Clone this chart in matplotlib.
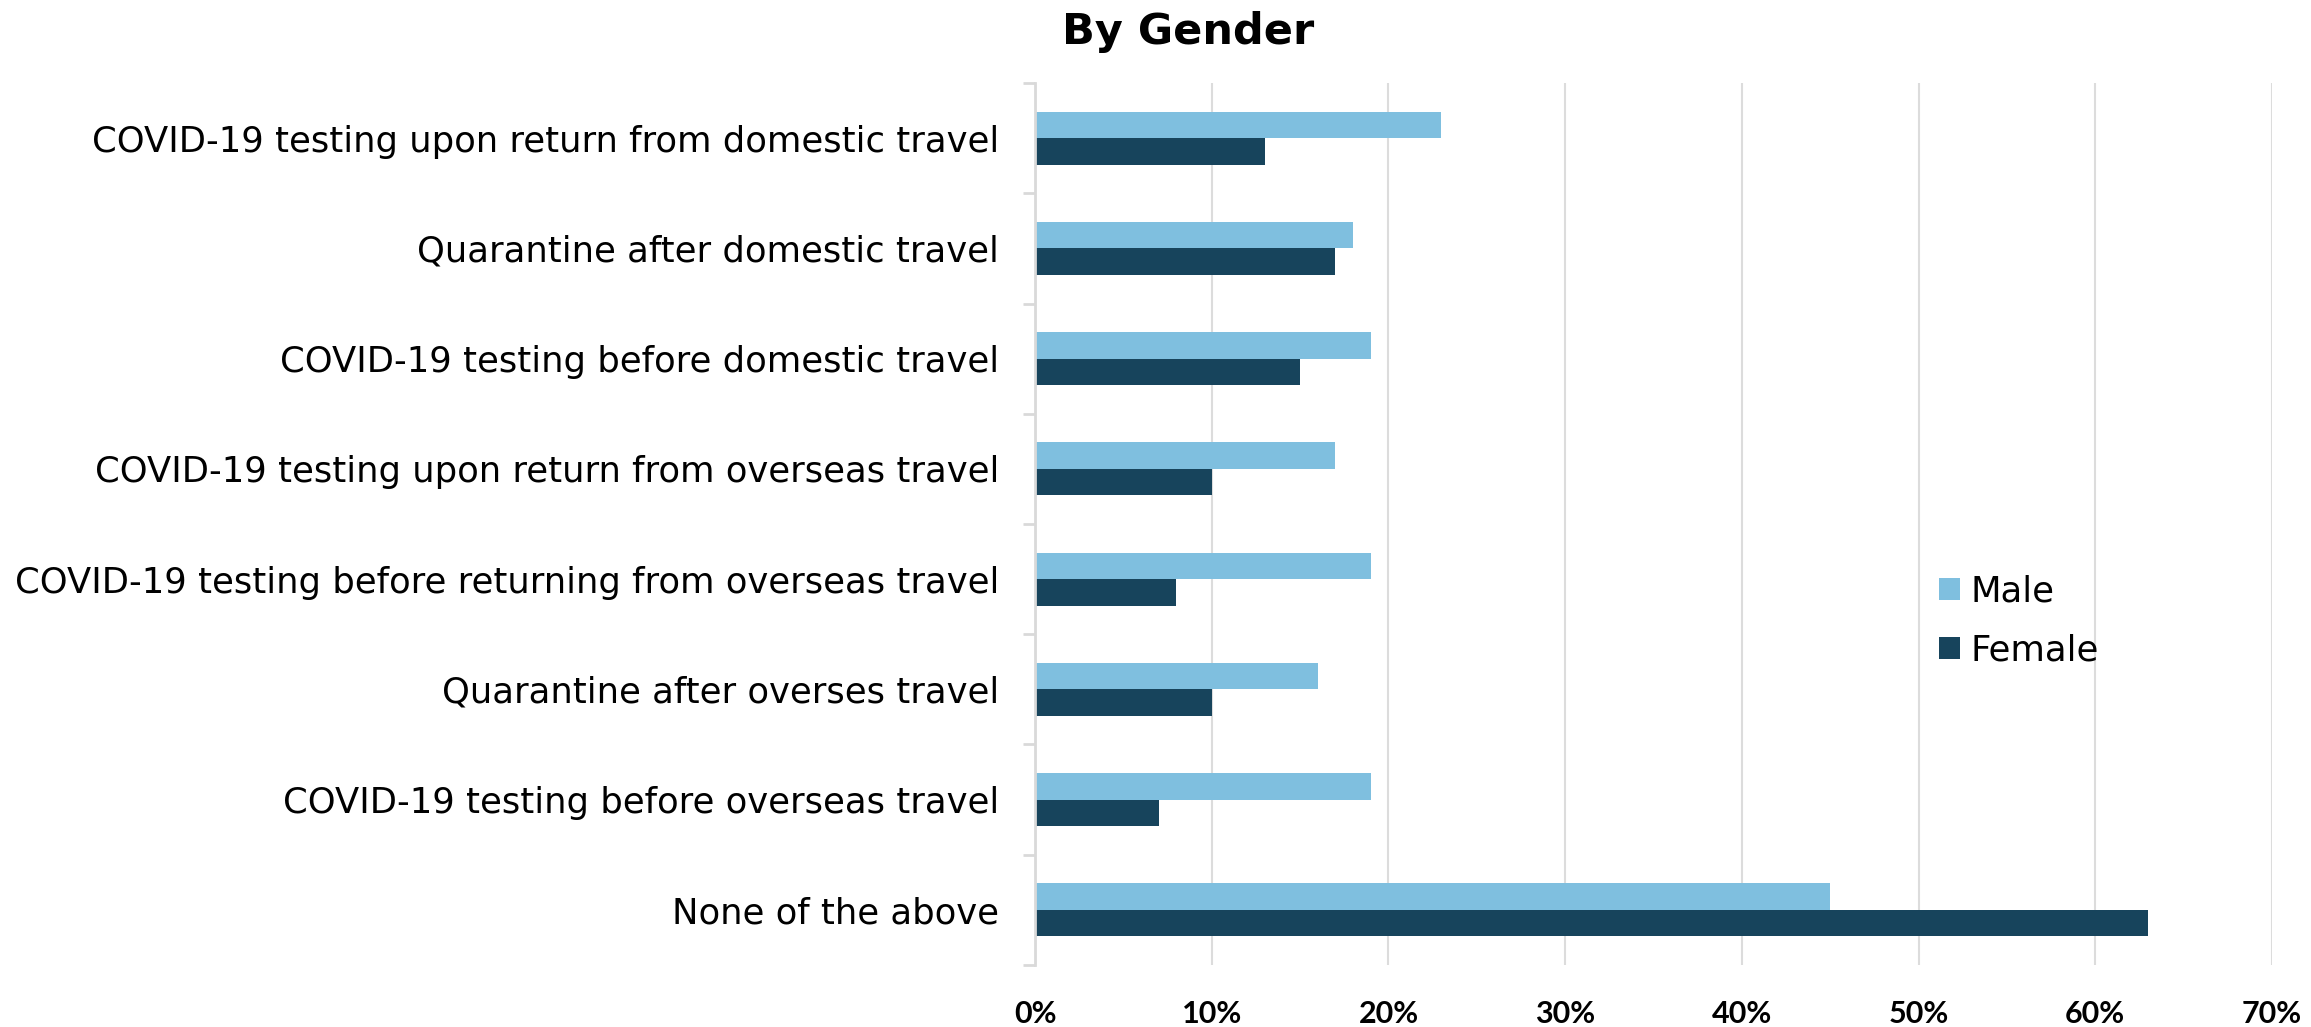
import matplotlib
matplotlib.use("Agg")
import matplotlib.pyplot as plt
import numpy as np

# Дані з діаграми
categories = [
    "COVID-19 testing upon return from domestic travel",
    "Quarantine after domestic travel",
    "COVID-19 testing before domestic travel",
    "COVID-19 testing upon return from overseas travel",
    "COVID-19 testing before returning from overseas travel",
    "Quarantine after overses travel",
    "COVID-19 testing before overseas travel",
    "None of the above",
]
male = [23, 18, 19, 17, 19, 16, 19, 45]
female = [13, 17, 15, 10, 8, 10, 7, 63]
x_ticks = [0, 10, 20, 30, 40, 50, 60, 70]

male_color = "#7FBFDF"
female_color = "#17445C"

plt.rcParams['font.family'] = ['DejaVu Sans']

fig = plt.figure(figsize=(23.11, 10.27), dpi=100)
ax = fig.add_axes([0.4479, 0.0604, 0.5352, 0.8587])

y = np.arange(len(categories))
h = 0.24
ax.barh(y - h / 2, male, height=h, color=male_color, label="Male")
ax.barh(y + h / 2, female, height=h, color=female_color, label="Female")

ax.set_ylim(len(categories) - 0.5, -0.5)
ax.set_xlim(0, 70)
ax.set_xticks(x_ticks)
ax.set_xticklabels([f"{v}%" for v in x_ticks], fontsize=22, fontweight='bold', family='Lato')
ax.set_yticks(y)
ax.set_yticklabels(categories, fontsize=25.5)
ax.set_yticks(np.arange(-0.5, len(categories), 1), minor=True)

ax.tick_params(axis='y', which='major', length=0, pad=26)
ax.tick_params(axis='y', which='minor', length=9, width=2, color='#d9d9d9')
ax.tick_params(axis='x', length=0, pad=25)

ax.grid(axis='x', color='#dcdcdc', linewidth=1.5)
ax.set_axisbelow(True)
for s in ['top', 'right', 'bottom']:
    ax.spines[s].set_visible(False)
ax.spines['left'].set_color('#d9d9d9')
ax.spines['left'].set_linewidth(2)

fig.text(0.514, 0.969, "By Gender", ha='center', va='center', fontsize=31, fontweight='bold')

ax.legend(loc='center left', bbox_to_anchor=(0.705, 0.39), frameon=False, fontsize=25.5,
          handlelength=0.6, handleheight=0.6, handletextpad=0.3, labelspacing=0.7)

fig.savefig("out.png", dpi=100)
